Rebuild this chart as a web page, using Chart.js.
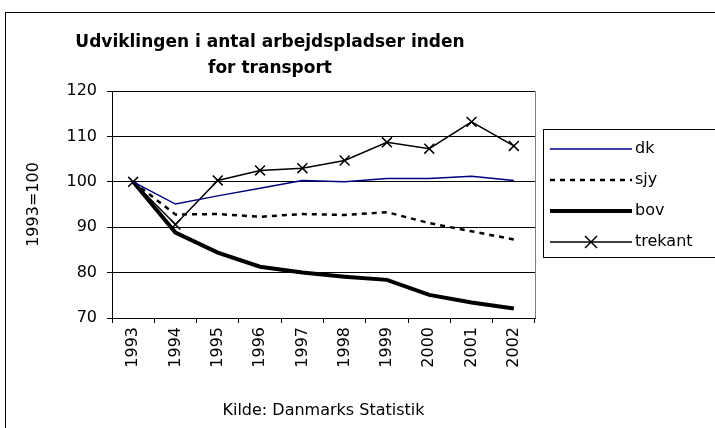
<!DOCTYPE html>
<html>
<head>
<meta charset="utf-8">
<script src="https://cdn.jsdelivr.net/npm/chart.js@4/dist/chart.umd.min.js"></script>
<style>
  html, body { margin: 0; padding: 0; background: #fff; }
  #wrap { width: 715px; height: 428px; }
</style>
</head>
<body>
<div id="wrap"><canvas id="chart" width="715" height="428"></canvas></div>
<script>
const years = ["1993", "1994", "1995", "1996", "1997", "1998", "1999", "2000", "2001", "2002"];
const dk = [100, 95.1, 96.9, 98.6, 100.3, 100.0, 100.7, 100.7, 101.2, 100.3];
const sjy = [100, 92.8, 92.9, 92.3, 92.9, 92.7, 93.3, 90.9, 89.1, 87.3];
const bov = [100, 88.8, 84.4, 81.3, 80.0, 79.1, 78.4, 75.1, 73.4, 72.1];
const trekant = [100, 90.6, 100.3, 102.5, 103.0, 104.7, 108.7, 107.3, 113.2, 107.9];

const fontFam = "'DejaVu Sans', Verdana, sans-serif";

// Outer frame and the grey top/right edge of the plot area
const framePlugin = {
    id: "frame",
    beforeDraw(chart) {
        const ctx = chart.ctx;
        const a = chart.chartArea;
        ctx.save();
        ctx.strokeStyle = "#000";
        ctx.lineWidth = 1;
        ctx.strokeRect(5.5, 12.5, 760, 460);
        ctx.strokeStyle = "#808080";
        ctx.beginPath();
        ctx.moveTo(a.left, a.top + 0.5);
        ctx.lineTo(a.right + 0.5, a.top + 0.5);
        ctx.lineTo(a.right + 0.5, a.bottom);
        ctx.stroke();
        ctx.restore();
    }
};

// Legend drawn as a box to the right of the plot
const legendPlugin = {
    id: "sideLegend",
    afterDraw(chart) {
        const ctx = chart.ctx;
        const x0 = 543, y0 = 129;
        ctx.save();
        ctx.fillStyle = "#fff";
        ctx.fillRect(x0, y0, 200, 128);
        ctx.strokeStyle = "#000";
        ctx.lineWidth = 1;
        ctx.strokeRect(x0 + 0.5, y0 + 0.5, 200, 128);
        chart.data.datasets.forEach((ds, i) => {
            const y = y0 + 20 + i * 31;
            ctx.strokeStyle = ds.borderColor;
            ctx.lineWidth = ds.borderWidth;
            ctx.setLineDash(ds.borderDash || []);
            ctx.beginPath();
            ctx.moveTo(550, y);
            ctx.lineTo(632, y);
            ctx.stroke();
            ctx.setLineDash([]);
            if (ds.pointStyle === "crossRot") {
                ctx.lineWidth = 1.5;
                ctx.beginPath();
                ctx.moveTo(585, y - 6);
                ctx.lineTo(597, y + 6);
                ctx.moveTo(597, y - 6);
                ctx.lineTo(585, y + 6);
                ctx.stroke();
            }
            ctx.fillStyle = "#000";
            ctx.font = "16px " + fontFam;
            ctx.textBaseline = "middle";
            ctx.fillText(ds.label, 635, y);
        });
        ctx.restore();
    }
};

new Chart(document.getElementById("chart").getContext("2d"), {
    type: "line",
    data: {
        labels: years,
        datasets: [
            { label: "dk", data: dk, borderColor: "#000080", borderWidth: 1.5, pointRadius: 0 },
            { label: "sjy", data: sjy, borderColor: "#000", borderWidth: 2.5, borderDash: [5, 5], pointRadius: 0 },
            { label: "bov", data: bov, borderColor: "#000", borderWidth: 4, pointRadius: 0 },
            { label: "trekant", data: trekant, borderColor: "#000", borderWidth: 1.5, pointStyle: "crossRot",
              pointRadius: 7, pointBorderWidth: 1.5, pointBorderColor: "#000" }
        ]
    },
    options: {
        responsive: false,
        animation: false,
        layout: { padding: { left: 5, right: 180, top: 0, bottom: 8 } },
        plugins: {
            legend: { display: false },
            tooltip: { enabled: false },
            title: {
                display: true,
                text: ["Udviklingen i antal arbejdspladser inden", "for transport"],
                color: "#000",
                font: { family: fontFam, size: 17, weight: "bold", lineHeight: 1.5 },
                padding: { top: 30, bottom: 10 }
            }
        },
        scales: {
            x: {
                offset: true,
                afterFit(scale) { scale.height = 102; },
                grid: { display: true, drawOnChartArea: false, drawTicks: true, tickLength: 5, color: "#000", offset: true },
                border: { color: "#000" },
                ticks: { color: "#000", font: { family: fontFam, size: 16 }, minRotation: 90, maxRotation: 90, padding: 4 },
                title: { display: true, text: "Kilde: Danmarks Statistik", color: "#000", font: { family: fontFam, size: 16 }, padding: { top: 4, bottom: 0 } }
            },
            y: {
                min: 70,
                max: 120,
                afterFit(scale) { scale.width = 107; },
                ticks: { stepSize: 10, color: "#000", font: { family: fontFam, size: 16 }, padding: 10 },
                grid: { color: "#000", tickLength: 5 },
                border: { color: "#000" },
                title: { display: true, text: "1993=100", color: "#000", font: { family: fontFam, size: 16 }, padding: { top: 19, bottom: 10 } }
            }
        }
    },
    plugins: [framePlugin, legendPlugin]
});
</script>
</body>
</html>
